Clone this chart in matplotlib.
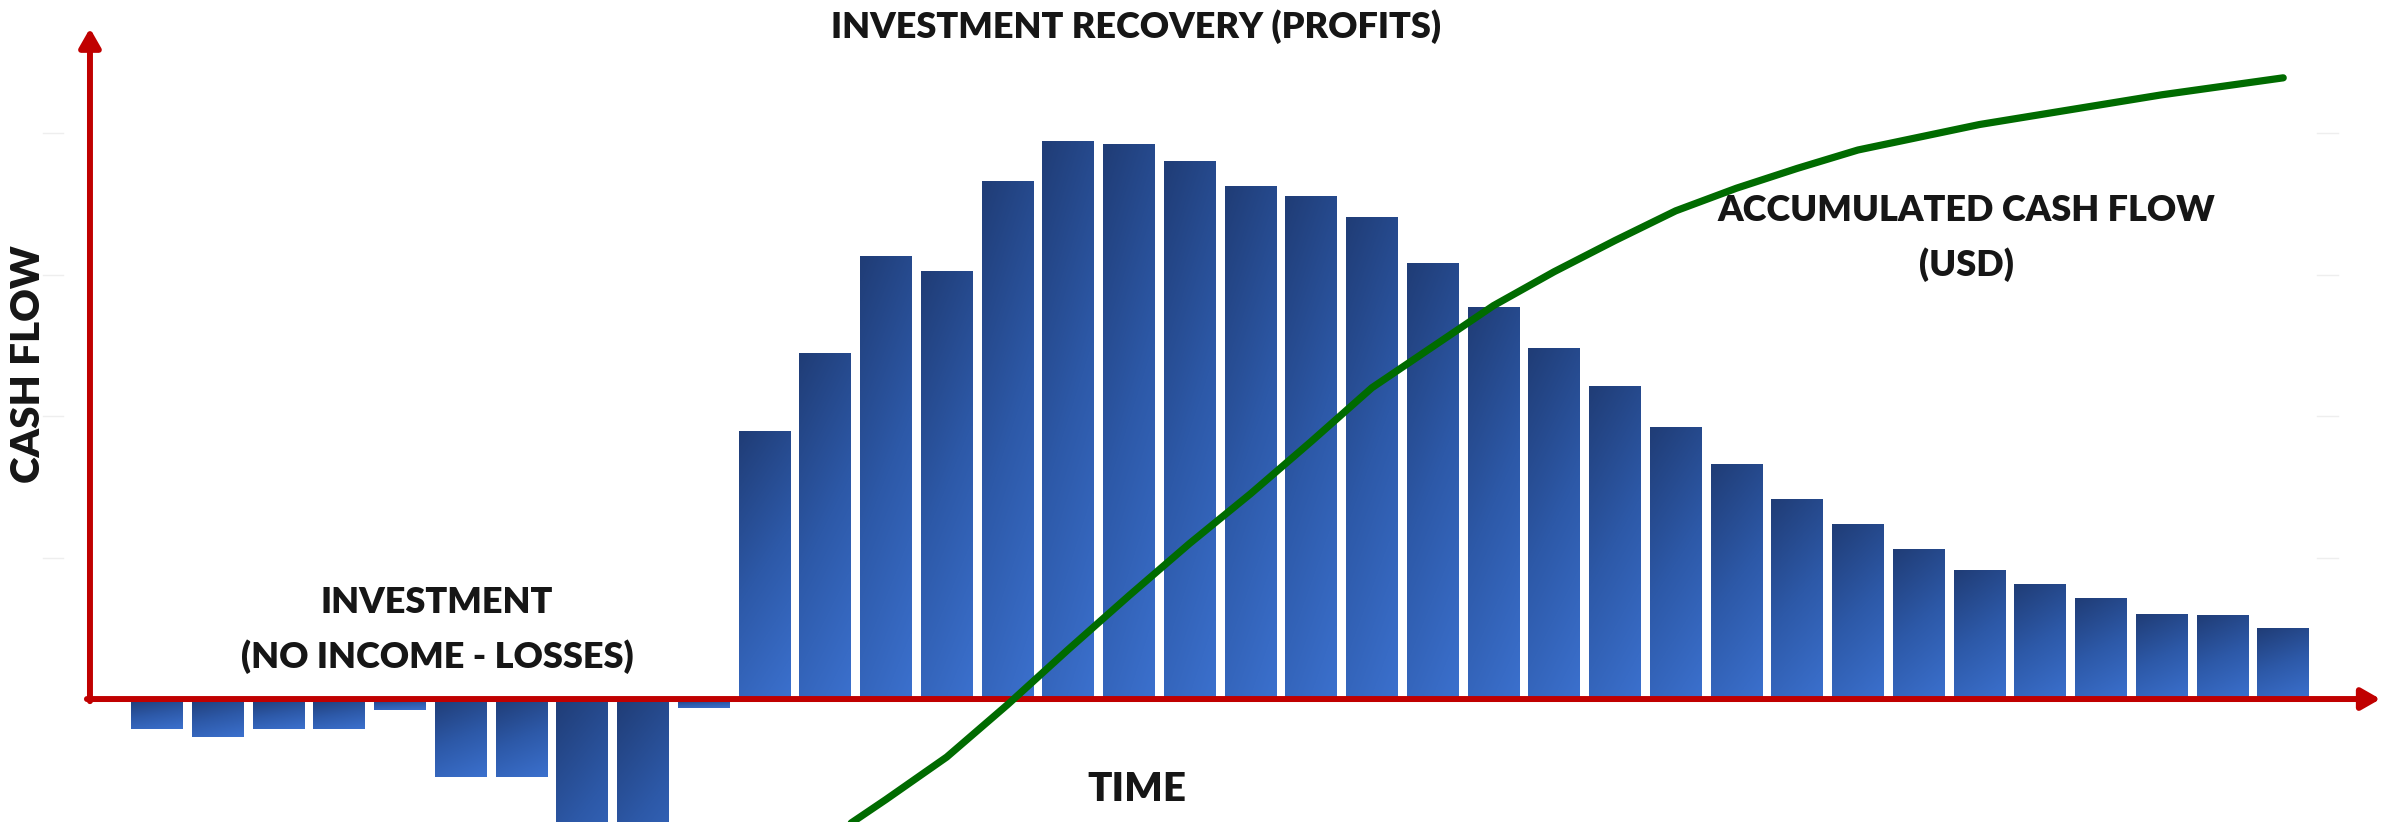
import numpy as np
import matplotlib.pyplot as plt
from matplotlib.colors import LinearSegmentedColormap

# cash flow per period (bars) and accumulated cash flow (line)
periods = np.arange(36)
cash_flow = [-21, -27, -21, -21, -8, -55, -55, -160, -160, -6,
             189, 244, 313, 302, 366, 394, 392, 380, 362, 355,
             340, 308, 277, 248, 221, 192, 166, 141, 123, 106,
             91, 81, 71, 60, 59, 50]
acc_periods = np.arange(11, 36)
accumulated = [-100, -71, -41, -4, 35, 73, 110, 145, 182, 220,
               249, 278, 302, 324, 345, 361, 375, 388, 397, 406,
               413, 420, 427, 433, 439]
grid_levels = [100, 200, 300, 400]

red = '#c00000'
green = '#006b00'
ink = '#161616'
blues = LinearSegmentedColormap.from_list('bars', ['#3b70cd', '#2d59a8', '#203d77'])

plt.rcParams['font.family'] = ['Lato', 'DejaVu Sans']

fig = plt.figure(figsize=(23.82, 8.22), dpi=100)
ax = fig.add_axes([0, 0, 1, 1])
ax.set_axis_off()

# gradient fill for every bar: dark on top, lighter to the bottom
rows = np.linspace(0, 1, 64)[:, None]
cols = np.linspace(0, 1, 16)[None, :]
shade = 0.78 * rows + 0.22 * (1 - cols)
bar_w = 0.85
for x, v in zip(periods, cash_flow):
    ax.imshow(shade, cmap=blues, vmin=0, vmax=1, origin='lower', aspect='auto',
              interpolation='bilinear', zorder=2,
              extent=[x - bar_w / 2, x + bar_w / 2, min(0, v), max(0, v)])

ax.set_xlim(-2.584, 36.626)
ax.set_ylim(-86.9, 494)

# faint leftovers of the gridlines at both sides
for g in grid_levels:
    ax.plot([-1.877, -1.547], [g, g], color='#eeeeee', lw=1, zorder=1)
    ax.plot([35.56, 35.9], [g, g], color='#eeeeee', lw=1, zorder=1)

# red axes with arrow heads
yaxis_x = -1.103
arrow = dict(arrowstyle='-|>,head_length=0.35,head_width=0.2', color=red, lw=4.3,
             mutation_scale=32, shrinkA=0, shrinkB=0)
ax.annotate('', xy=(yaxis_x, 474), xytext=(yaxis_x, -1.5), arrowprops=arrow, zorder=4)
ax.annotate('', xy=(36.6, 0), xytext=(yaxis_x - 0.05, 0), arrowprops=arrow, zorder=4)

ax.plot(acc_periods, accumulated, color=green, lw=5.2, solid_capstyle='round',
        solid_joinstyle='round', zorder=5)

font = dict(color=ink, fontweight='heavy', fontsize=26, ha='center', va='center')
ax.text(16.12, 475, 'INVESTMENT RECOVERY (PROFITS)', **font)
ax.text(-2.107, 237, 'CASH FLOW', rotation=90, **dict(font, fontsize=29))
ax.text(16.13, -64, 'TIME', **dict(font, fontsize=29))
ax.text(4.61, 68, 'INVESTMENT', **font)
ax.text(4.61, 30, '(NO INCOME - LOSSES)', **font)
ax.text(29.79, 345, 'ACCUMULATED CASH FLOW', **font)
ax.text(29.79, 307, '(USD)', **font)

fig.savefig('out.png', dpi=100, facecolor='white')
